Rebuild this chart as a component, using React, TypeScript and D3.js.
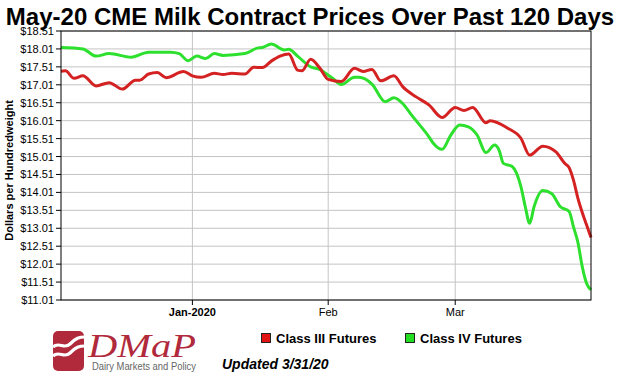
import React from "react";
import * as d3 from "d3";

const titleText = "May-20 CME Milk Contract Prices Over Past 120 Days";
const yAxisTitle = "Dollars per Hundredweight";
const yTicks = [11.01, 11.51, 12.01, 12.51, 13.01, 13.51, 14.01, 14.51, 15.01, 15.51, 16.01, 16.51, 17.01, 17.51, 18.01, 18.51];
const xTickDates = ["2020-01-01", "2020-02-01", "2020-03-01"];
const xTickLabels = ["Jan-2020", "Feb", "Mar"];
const xDomain = ["2019-12-02", "2020-04-01"];

const class3Dates = [
  "2019-12-02", "2019-12-03", "2019-12-05", "2019-12-07", "2019-12-10", "2019-12-13", "2019-12-16", "2019-12-19",
  "2019-12-20", "2019-12-22", "2019-12-24", "2019-12-26", "2019-12-30", "2020-01-01", "2020-01-03", "2020-01-06",
  "2020-01-08", "2020-01-10", "2020-01-13", "2020-01-15", "2020-01-17", "2020-01-19", "2020-01-21", "2020-01-23",
  "2020-01-25", "2020-01-26", "2020-01-28", "2020-01-30", "2020-02-01", "2020-02-04", "2020-02-07", "2020-02-09",
  "2020-02-11", "2020-02-13", "2020-02-16", "2020-02-18", "2020-02-21", "2020-02-24", "2020-02-27", "2020-03-01",
  "2020-03-03", "2020-03-05", "2020-03-08", "2020-03-09", "2020-03-13", "2020-03-16", "2020-03-18", "2020-03-21",
  "2020-03-24", "2020-03-26", "2020-03-27", "2020-03-28", "2020-03-29", "2020-03-30", "2020-03-31", "2020-04-01",
];
const class3Values = [
  17.39, 17.40, 17.19, 17.26, 16.98, 17.07, 16.89, 17.14,
  17.14, 17.31, 17.35, 17.21, 17.38, 17.26, 17.22, 17.33,
  17.30, 17.33, 17.31, 17.50, 17.49, 17.67, 17.81, 17.87,
  17.42, 17.40, 17.72, 17.49, 17.16, 17.10, 17.47, 17.38,
  17.44, 17.12, 17.26, 16.96, 16.68, 16.45, 16.10, 16.38,
  16.29, 16.38, 15.95, 16.01, 15.80, 15.52, 15.05, 15.30,
  15.14, 14.82, 14.70, 14.35, 13.85, 13.45, 13.10, 12.75,
];

const class4Dates = [
  "2019-12-02", "2019-12-07", "2019-12-10", "2019-12-13", "2019-12-18", "2019-12-22", "2019-12-27", "2019-12-29",
  "2019-12-31", "2020-01-02", "2020-01-04", "2020-01-06", "2020-01-08", "2020-01-13", "2020-01-16", "2020-01-17",
  "2020-01-19", "2020-01-22", "2020-01-23", "2020-01-25", "2020-01-28", "2020-01-30", "2020-02-02", "2020-02-04",
  "2020-02-07", "2020-02-08", "2020-02-11", "2020-02-14", "2020-02-16", "2020-02-18", "2020-02-20", "2020-02-24",
  "2020-02-25", "2020-02-27", "2020-02-29", "2020-03-02", "2020-03-04", "2020-03-06", "2020-03-08", "2020-03-10",
  "2020-03-11", "2020-03-12", "2020-03-14", "2020-03-16", "2020-03-17", "2020-03-18", "2020-03-19", "2020-03-21",
  "2020-03-23", "2020-03-25", "2020-03-27", "2020-03-28", "2020-03-29", "2020-03-30", "2020-03-31", "2020-04-01",
];
const class4Values = [
  18.05, 18.01, 17.81, 17.88, 17.78, 17.92, 17.92, 17.88,
  17.68, 17.81, 17.74, 17.88, 17.83, 17.88, 18.04, 18.05,
  18.15, 17.98, 18.00, 17.81, 17.51, 17.44, 17.19, 17.02,
  17.22, 17.22, 17.03, 16.54, 16.65, 16.49, 16.17, 15.56,
  15.38, 15.21, 15.61, 15.89, 15.84, 15.61, 15.12, 15.33,
  15.19, 14.82, 14.73, 14.17, 13.61, 13.15, 13.61, 14.06,
  13.98, 13.61, 13.48, 13.05, 12.62, 11.94, 11.47, 11.29,
];

const seriesNames = ["Class III Futures", "Class IV Futures"];
const seriesColors = ["#d42222", "#2ee02e"];
const legendColors = ["#e01414", "#22dd22"];

const W = 620;
const H = 380;
const plot = { left: 61, top: 31, right: 591, bottom: 300 };
const FONT = "'Liberation Sans', Arial, Helvetica, sans-serif";

export default function App() {
  const parse = d3.utcParse("%Y-%m-%d");
  const x = d3
    .scaleUtc()
    .domain(xDomain.map((d) => parse(d) as Date))
    .range([plot.left, plot.right]);
  const y = d3.scaleLinear().domain([11.01, 18.51]).range([plot.bottom, plot.top]);

  const line = d3
    .line<[Date, number]>()
    .x((d) => x(d[0]))
    .y((d) => y(d[1]))
    .curve(d3.curveMonotoneX);

  const s3 = class3Dates.map((d, i) => [parse(d) as Date, class3Values[i]] as [Date, number]);
  const s4 = class4Dates.map((d, i) => [parse(d) as Date, class4Values[i]] as [Date, number]);

  const fmt = (v: number) => "$" + v.toFixed(2);

  return (
    <svg
      width={W}
      height={H}
      style={{ position: "absolute", left: 0, top: 0, background: "#fff" }}
      fontFamily={FONT}
    >
      <rect x={0} y={0} width={W} height={H} fill="#fff" />
      <text x={310} y={25} textAnchor="middle" fontSize={24} fontWeight="bold" fill="#000">
        {titleText}
      </text>

      {/* grid */}
      {yTicks.map((t) => (
        <line key={"gy" + t} x1={plot.left} x2={plot.right} y1={y(t)} y2={y(t)} stroke="#c4c4c4" strokeWidth={1} />
      ))}
      {xTickDates.map((d) => (
        <line
          key={"gx" + d}
          x1={x(parse(d) as Date)}
          x2={x(parse(d) as Date)}
          y1={plot.top}
          y2={plot.bottom}
          stroke="#c4c4c4"
          strokeWidth={1}
        />
      ))}

      {/* lines */}
      <path d={line(s4) || ""} fill="none" stroke={seriesColors[1]} strokeWidth={3} strokeLinejoin="round" />
      <path d={line(s3) || ""} fill="none" stroke={seriesColors[0]} strokeWidth={3} strokeLinejoin="round" />

      {/* frame */}
      <rect
        x={plot.left}
        y={plot.top}
        width={plot.right - plot.left}
        height={plot.bottom - plot.top}
        fill="none"
        stroke="#000"
        strokeWidth={1}
      />

      {/* y axis */}
      {yTicks.map((t) => (
        <g key={"yt" + t}>
          <line x1={plot.left - 5} x2={plot.left} y1={y(t)} y2={y(t)} stroke="#000" />
          <text x={54} y={y(t) + 4} textAnchor="end" fontSize={11} fill="#000">
            {fmt(t)}
          </text>
        </g>
      ))}
      <text
        transform={`translate(13,${(plot.top + plot.bottom) / 2 + 5}) rotate(-90)`}
        textAnchor="middle"
        fontSize={11}
        fontWeight="bold"
        fill="#000"
      >
        {yAxisTitle}
      </text>

      {/* x axis */}
      {xTickDates.map((d, i) => (
        <g key={"xt" + d}>
          <line
            x1={x(parse(d) as Date)}
            x2={x(parse(d) as Date)}
            y1={plot.bottom}
            y2={plot.bottom + 5}
            stroke="#000"
          />
          <text
            x={x(parse(d) as Date)}
            y={316}
            textAnchor="middle"
            fontSize={11}
            fontWeight={i === 0 ? "bold" : "normal"}
            fill="#000"
          >
            {xTickLabels[i]}
          </text>
        </g>
      ))}

      {/* legend */}
      {seriesNames.map((n, i) => (
        <g key={n} transform={`translate(${i === 0 ? 261 : 405},333)`}>
          <rect x={0.5} y={0.5} width={9} height={9} fill={legendColors[i]} stroke="#222" strokeWidth={1} />
          <text x={15} y={9.5} fontSize={13} fontWeight="bold" fill="#000">
            {n}
          </text>
        </g>
      ))}

      <text x={222} y={369} fontSize={14} fontWeight="bold" fontStyle="italic" fill="#000">
        Updated 3/31/20
      </text>

      {/* logo */}
      <g>
        <rect x={53} y={331} width={31} height={40} rx={5} fill="#b02a3c" />
        <path d="M53,347 C59,341 64,350 70,344 S79,337 85,337" fill="none" stroke="#fff" strokeWidth={3.2} />
        <path d="M53,356 C59,350 64,359 70,353 S79,346 85,346" fill="none" stroke="#fff" strokeWidth={3.2} />
        <text
          x={88}
          y={357}
          fontSize={33}
          fontStyle="italic"
          fill="#b02a3c"
          fontFamily="'Liberation Serif', 'DejaVu Serif', serif"
          textLength={108}
          lengthAdjust="spacingAndGlyphs"
        >
          DMaP
        </text>
        <text
          x={92}
          y={370}
          fontSize={10}
          fill="#666"
          fontFamily="'Liberation Sans Narrow', 'Liberation Sans', Arial, sans-serif"
          textLength={104}
          lengthAdjust="spacingAndGlyphs"
        >
          Dairy Markets and Policy
        </text>
      </g>
    </svg>
  );
}
